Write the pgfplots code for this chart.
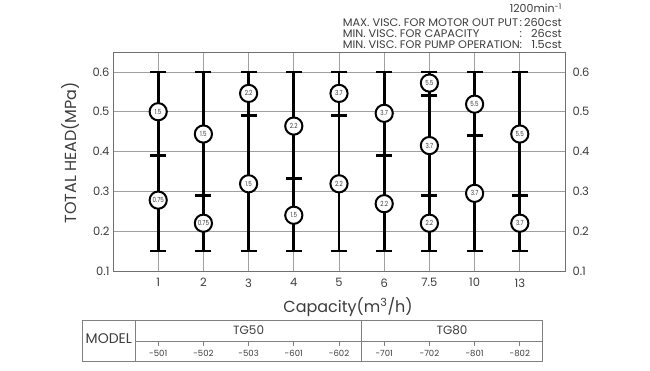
\documentclass[border=0pt]{standalone}
\usepackage{fontspec}
\setmainfont{Poppins}
\usepackage{pgfplots}
\usepackage{pgfplotstable}
\pgfplotsset{compat=1.18}
\definecolor{txt}{HTML}{3C3C3C}
\definecolor{gridc}{HTML}{A0A0A0}
\definecolor{axc}{HTML}{707070}
\definecolor{tabc}{HTML}{808080}

\pgfplotstableread{
x y
1 0.15
1 0.39
1 0.60
nan nan
2 0.15
2 0.29
2 0.60
nan nan
3 0.15
3 0.49
3 0.60
nan nan
4 0.15
4 0.333
4 0.60
nan nan
5 0.15
5 0.49
5 0.60
nan nan
6 0.15
6 0.39
6 0.60
nan nan
7 0.15
7 0.29
7 0.54
7 0.60
nan nan
8 0.15
8 0.44
8 0.60
nan nan
9 0.15
9 0.29
9 0.60
}\bars

\pgfplotstableread{
x y lab
1 0.500 1.5
1 0.278 0.75
2 0.444 1.5
2 0.220 0.75
3 0.546 2.2
3 0.319 1.5
4 0.464 2.2
4 0.240 1.5
5 0.546 3.7
5 0.319 2.2
6 0.496 3.7
6 0.269 2.2
7 0.572 5.5
7 0.415 3.7
7 0.220 2.2
8 0.519 5.5
8 0.295 3.7
9 0.444 5.5
9 0.220 3.7
}\circs

\begin{document}
\begin{tikzpicture}
\useasboundingbox (-113pt,-100pt) rectangle (537pt,271pt);
\pgfplotsset{
  common/.style={
    scale only axis, width=452pt, height=219pt,
    xmin=0, xmax=10, ymin=0.1, ymax=0.65,
    ytick={0.1,0.2,0.3,0.4,0.5,0.6},
    major tick length=0pt,
    /pgf/number format/assume math mode=true,
    /pgf/number format/fixed, /pgf/number format/precision=1,
    tick label style={font=\fontsize{11.5}{12}\selectfont, text=txt},
  }
}
\begin{axis}[
  common,
  xtick={1,...,9},
  xticklabels={1,2,3,4,5,6,7.5,10,13},
  xticklabel style={yshift=-4pt},
  grid=major,
  major grid style={gridc, line width=0.8pt},
  axis line style={axc, line width=0.8pt},
  unbounded coords=jump,
  clip=false,
  xlabel={Capacity(m\textsuperscript{3}/h)},
  xlabel style={at={(axis description cs:0.52,-0.164)}, anchor=center, font=\fontsize{16}{18}\selectfont, text=txt},
  ylabel={TOTAL HEAD(MPa)},
  ylabel style={at={(axis description cs:-0.095,0.54)}, anchor=center, font=\fontsize{16}{18}\selectfont, text=txt},
]
\addplot[black, line width=2.7pt, mark=-, mark size=8pt, mark options={solid}] table[x=x, y=y] {\bars};
\addplot[only marks, mark=*, mark size=8.6pt,
  mark options={fill=white, draw=black, line width=2pt},
  point meta=explicit symbolic,
  nodes near coords={\scalebox{0.8}[1]{\pgfplotspointmeta}},
  nodes near coords style={anchor=center, inner sep=0pt, font=\fontsize{7}{8}\selectfont, text=txt}]
  table[x=x, y=y, meta=lab] {\circs};
\end{axis}
\begin{axis}[
  common,
  axis x line=none,
  axis y line*=right,
  y axis line style={draw=none},
  yticklabel style={xshift=4pt},
]
\end{axis}

% header
\node[anchor=base east, inner sep=0pt, text=txt, font=\fontsize{11}{12}\selectfont] at (449pt,258pt) {1200min\textsuperscript{-1}};
\node[anchor=north east, inner sep=0pt, text=txt] at (449pt,253pt) {%
  \resizebox{219pt}{\height}{\fontsize{11}{10.7}\selectfont\renewcommand\arraystretch{1}%
  \begin{tabular}{@{}l@{}c@{\,}r@{}}
  MAX. VISC. FOR MOTOR OUT PUT\ & : & 260cst\\
  MIN. VISC. FOR CAPACITY & : & 26cst\\
  MIN. VISC. FOR PUMP OPERATION & : & 1.5cst
  \end{tabular}}};

% model table
\begin{scope}[tabc, line width=0.8pt]
\draw (-31pt,-49pt) rectangle (429.4pt,-90pt);
\draw (22.6pt,-49pt) -- (22.6pt,-90pt);
\draw (248.6pt,-49pt) -- (248.6pt,-90pt);
\draw (22.6pt,-70pt) -- (429.4pt,-70pt);
\foreach \i in {1,...,9} \draw (\i*45.2pt,-70pt) -- ++(0,-5pt);
\end{scope}
\begin{scope}[text=txt]
\node[font=\fontsize{14}{15}\selectfont] at (-4.2pt,-68pt) {MODEL};
\node[font=\fontsize{12}{13}\selectfont] at (135.6pt,-59.5pt) {TG50};
\node[font=\fontsize{12}{13}\selectfont] at (339pt,-59.5pt) {TG80};
\foreach \i/\m in {1/-501,2/-502,3/-503,4/-601,5/-602,6/-701,7/-702,8/-801,9/-802}
  \node[font=\fontsize{8.5}{9}\selectfont] at (\i*45.2pt,-82pt) {\m};
\end{scope}
\end{tikzpicture}
\end{document}
